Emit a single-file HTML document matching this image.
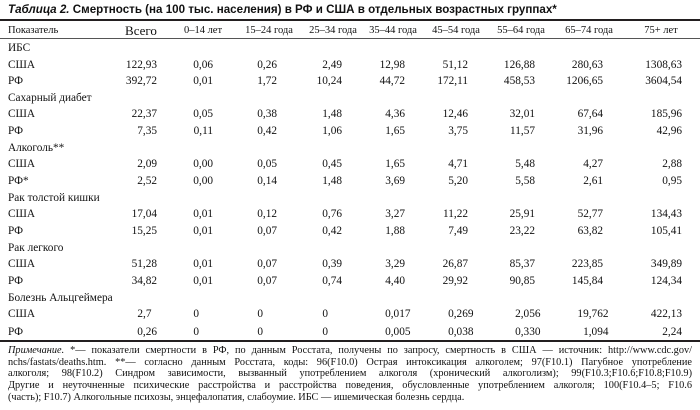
<!DOCTYPE html>
<html><head><meta charset="utf-8">
<style>
*{margin:0;padding:0;box-sizing:border-box}
body{width:700px;height:410px;background:#fff;position:relative;overflow:hidden;font-family:"Liberation Serif","Noto Serif CJK SC",serif;color:#111}
.t{position:absolute;left:8px;top:3px;font-family:"Liberation Sans",sans-serif;font-weight:bold;font-size:11.6px;white-space:nowrap}
.hr1{position:absolute;left:0;top:19px;width:700px;height:2px;background:#231f20}
.hr2{position:absolute;left:0;top:38px;width:700px;height:1px;background:#555}
.hr3{position:absolute;left:0;top:340px;width:700px;height:2px;background:#231f20}
.r{position:absolute;left:0;width:700px;height:14px;font-size:11.3px;line-height:14px}
.r span{position:absolute;white-space:nowrap}
.l{left:8px}
.h span{transform:translateX(-50%)}
.c1{right:543px}.c2{right:487px}.c3{right:423px}.c4{right:358px}.c5{right:295px}.c6{right:232px}.c7{right:165px}.c8{right:97px}.c9{right:18px}
.d3{margin-right:-5.5px}.d1{margin-right:5.5px}.d0{margin-right:14px}
.n{position:absolute;left:8px;width:684px;font-size:10.3px;line-height:11.7px;text-align:justify;text-align-last:justify;white-space:nowrap}
.n.last{text-align-last:left}
</style></head><body>
<div class="t"><i>Таблица 2.</i> Смертность (на 100 тыс. населения) в РФ и США в отдельных возрастных группах*</div>
<div class="hr1"></div>
<div class="r h" style="top:24px;font-size:10.5px">
<span style="left:8px;transform:none">Показатель</span>
<span style="left:141px;font-size:13px">Всего</span>
<span style="left:203px">0–14 лет</span>
<span style="left:269px">15–24 года</span>
<span style="left:333px">25–34 года</span>
<span style="left:393px">35–44 года</span>
<span style="left:456px">45–54 года</span>
<span style="left:521px">55–64 года</span>
<span style="left:589px">65–74 года</span>
<span style="left:661px">75+ лет</span>
</div>
<div class="hr2"></div>

<div class="r" style="top:41px"><span class="l">ИБС</span></div>
<div class="r" style="top:58px"><span class="l">США</span><span class="c1">122,93</span><span class="c2">0,06</span><span class="c3">0,26</span><span class="c4">2,49</span><span class="c5">12,98</span><span class="c6">51,12</span><span class="c7">126,88</span><span class="c8">280,63</span><span class="c9">1308,63</span></div>
<div class="r" style="top:74px"><span class="l">РФ</span><span class="c1">392,72</span><span class="c2">0,01</span><span class="c3">1,72</span><span class="c4">10,24</span><span class="c5">44,72</span><span class="c6">172,11</span><span class="c7">458,53</span><span class="c8">1206,65</span><span class="c9">3604,54</span></div>
<div class="r" style="top:91px"><span class="l">Сахарный диабет</span></div>
<div class="r" style="top:107px"><span class="l">США</span><span class="c1">22,37</span><span class="c2">0,05</span><span class="c3">0,38</span><span class="c4">1,48</span><span class="c5">4,36</span><span class="c6">12,46</span><span class="c7">32,01</span><span class="c8">67,64</span><span class="c9">185,96</span></div>
<div class="r" style="top:124px"><span class="l">РФ</span><span class="c1">7,35</span><span class="c2">0,11</span><span class="c3">0,42</span><span class="c4">1,06</span><span class="c5">1,65</span><span class="c6">3,75</span><span class="c7">11,57</span><span class="c8">31,96</span><span class="c9">42,96</span></div>
<div class="r" style="top:141px"><span class="l">Алкоголь**</span></div>
<div class="r" style="top:157px"><span class="l">США</span><span class="c1">2,09</span><span class="c2">0,00</span><span class="c3">0,05</span><span class="c4">0,45</span><span class="c5">1,65</span><span class="c6">4,71</span><span class="c7">5,48</span><span class="c8">4,27</span><span class="c9">2,88</span></div>
<div class="r" style="top:174px"><span class="l">РФ*</span><span class="c1">2,52</span><span class="c2">0,00</span><span class="c3">0,14</span><span class="c4">1,48</span><span class="c5">3,69</span><span class="c6">5,20</span><span class="c7">5,58</span><span class="c8">2,61</span><span class="c9">0,95</span></div>
<div class="r" style="top:191px"><span class="l">Рак толстой кишки</span></div>
<div class="r" style="top:207px"><span class="l">США</span><span class="c1">17,04</span><span class="c2">0,01</span><span class="c3">0,12</span><span class="c4">0,76</span><span class="c5">3,27</span><span class="c6">11,22</span><span class="c7">25,91</span><span class="c8">52,77</span><span class="c9">134,43</span></div>
<div class="r" style="top:224px"><span class="l">РФ</span><span class="c1">15,25</span><span class="c2">0,01</span><span class="c3">0,07</span><span class="c4">0,42</span><span class="c5">1,88</span><span class="c6">7,49</span><span class="c7">23,22</span><span class="c8">63,82</span><span class="c9">105,41</span></div>
<div class="r" style="top:241px"><span class="l">Рак легкого</span></div>
<div class="r" style="top:257px"><span class="l">США</span><span class="c1">51,28</span><span class="c2">0,01</span><span class="c3">0,07</span><span class="c4">0,39</span><span class="c5">3,29</span><span class="c6">26,87</span><span class="c7">85,37</span><span class="c8">223,85</span><span class="c9">349,89</span></div>
<div class="r" style="top:274px"><span class="l">РФ</span><span class="c1">34,82</span><span class="c2">0,01</span><span class="c3">0,07</span><span class="c4">0,74</span><span class="c5">4,40</span><span class="c6">29,92</span><span class="c7">90,85</span><span class="c8">145,84</span><span class="c9">124,34</span></div>
<div class="r" style="top:291px"><span class="l">Болезнь Альцгеймера</span></div>
<div class="r" style="top:307px"><span class="l">США</span><span class="c1 d1">2,7</span><span class="c2 d0">0</span><span class="c3 d0">0</span><span class="c4 d0">0</span><span class="c5 d3">0,017</span><span class="c6 d3">0,269</span><span class="c7 d3">2,056</span><span class="c8 d3">19,762</span><span class="c9">422,13</span></div>
<div class="r" style="top:325px"><span class="l">РФ</span><span class="c1">0,26</span><span class="c2 d0">0</span><span class="c3 d0">0</span><span class="c4 d0">0</span><span class="c5 d3">0,005</span><span class="c6 d3">0,038</span><span class="c7 d3">0,330</span><span class="c8 d3">1,094</span><span class="c9">2,24</span></div>
<div class="hr3"></div>

<div class="n" style="top:345px"><i>Примечание.</i> *— показатели смертности в РФ, по данным Росстата, получены по запросу, смертность в США — источник: http://www.cdc.gov/</div>
<div class="n" style="top:357px">nchs/fastats/deaths.htm. **— согласно данным Росстата, коды: 96(F10.0) Острая интоксикация алкоголем; 97(F10.1) Пагубное употребление</div>
<div class="n" style="top:368px">алкоголя; 98(F10.2) Синдром зависимости, вызванный употреблением алкоголя (хронический алкоголизм); 99(F10.3;F10.6;F10.8;F10.9)</div>
<div class="n" style="top:380px">Другие и неуточненные психические расстройства и расстройства поведения, обусловленные употреблением алкоголя; 100(F10.4–5; F10.6</div>
<div class="n last" style="top:392px">(часть); F10.7) Алкогольные психозы, энцефалопатия, слабоумие. ИБС — ишемическая болезнь сердца.</div>
</body></html>
